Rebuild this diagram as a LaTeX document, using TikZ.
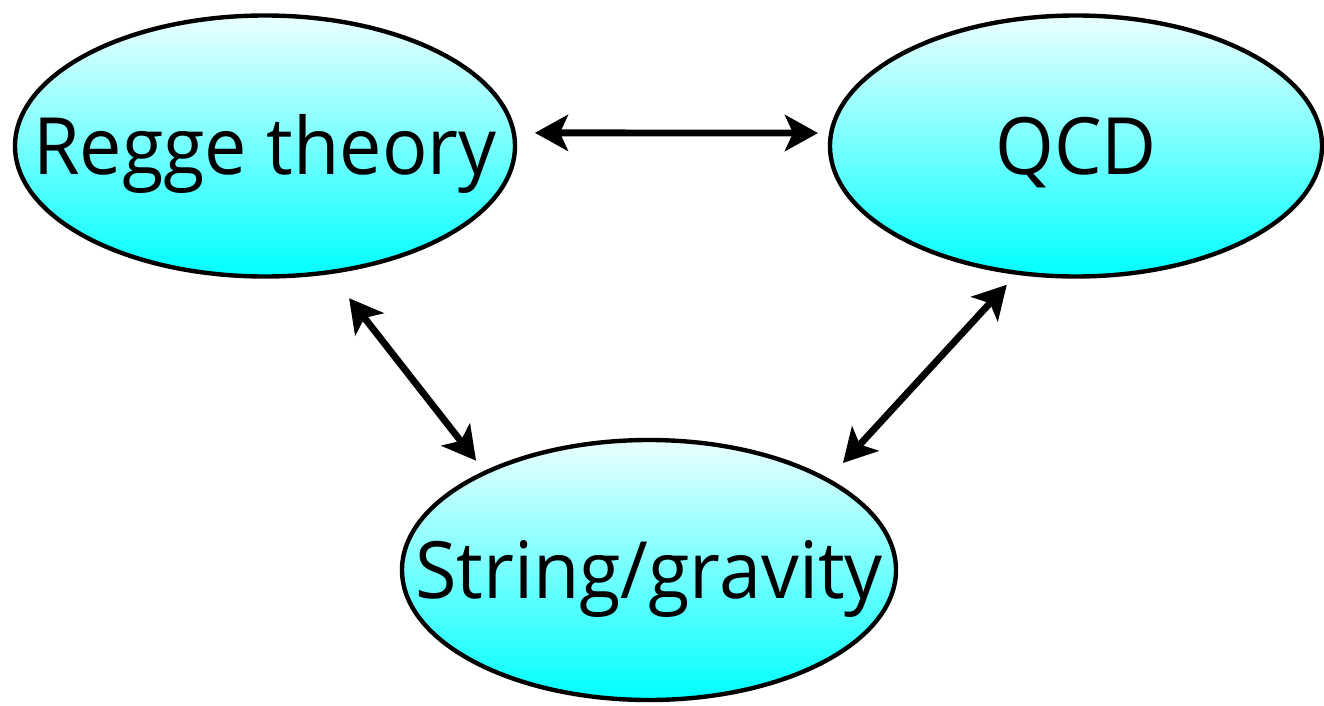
\documentclass[tikz,border=0pt]{standalone}
\usepackage{fontspec}
\setmainfont[FakeStretch=0.955]{Open Sans}
\usetikzlibrary{shapes.geometric,arrows.meta}
\begin{document}
\begin{tikzpicture}[
  blob/.style={draw,line width=2.5pt,ellipse,inner sep=0pt,top color=cyan!8,bottom color=cyan,
    text height=1.14cm,text depth=0pt,font=\fontsize{45}{50}\selectfont},
  link/.style={line width=3.9pt,{Stealth[length=0.66cm,width=0.72cm,inset=0.16cm]}-{Stealth[length=0.66cm,width=0.72cm,inset=0.16cm]}}]
  \useasboundingbox (0,0) rectangle (26.48,14.1);
  \node[blob,minimum width=10cm,minimum height=5.22cm] (reg) at (5.30,11.18) {\makebox[0pt]{Regge theory}};
  \node[blob,minimum width=9.84cm,minimum height=5.22cm] (qcd) at (21.52,11.18) {\makebox[0pt]{QCD}};
  \node[blob,minimum width=9.88cm,minimum height=5.2cm] (str) at (12.98,2.70) {\makebox[0pt]{String/gravity}};
  \draw[link,shorten <=0.38cm,shorten >=0.22cm] (reg.3) -- (qcd.177);
  \draw[link,shorten <=0.61cm,shorten >=0.26cm] (reg.-63) -- (str.149);
  \draw[link,shorten <=0.27cm,shorten >=0.42cm] (qcd.-115) -- (str.27.5);
\end{tikzpicture}
\end{document}
